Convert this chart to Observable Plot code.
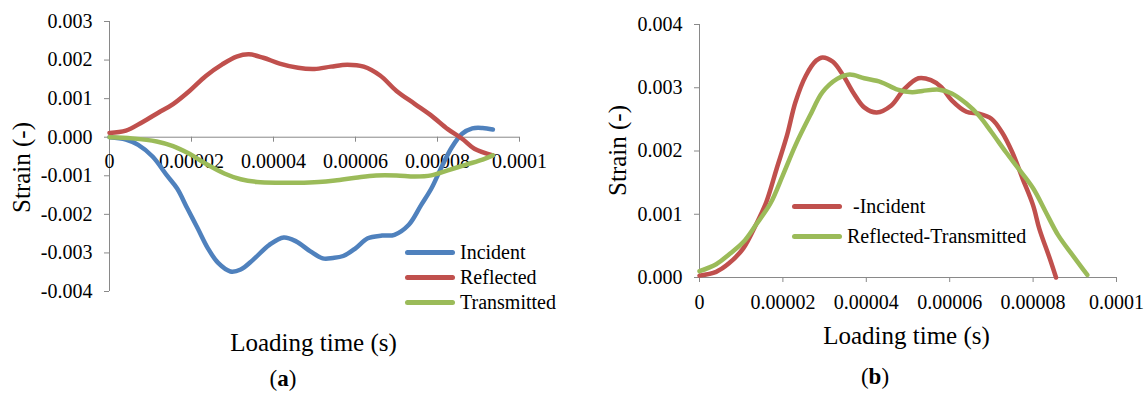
<!DOCTYPE html>
<html><head><meta charset="utf-8">
<script src="https://cdn.jsdelivr.net/npm/d3@7"></script>
<script src="https://cdn.jsdelivr.net/npm/@observablehq/plot@0.6"></script>
<style>
html,body{margin:0;padding:0;background:#fff;}
#wrap{position:relative;width:1147px;height:396px;overflow:hidden;font-family:"Liberation Serif","Times New Roman",serif;color:#000;background:#fff;}
#wrap svg{position:absolute;top:0;}
.leg{position:absolute;font-size:20px;}
.row{display:flex;align-items:center;line-height:1;}
.sw{height:5px;border-radius:2.5px;width:50px;margin-right:5px;flex:none;}
.cap{position:absolute;font-size:23px;line-height:1;transform:translateX(-50%);white-space:nowrap;}
</style></head><body><div id="wrap"></div>
<script>
// ---------- data (time in microseconds, strain in 1e-3) ----------
// Panel (a)
const incidentT = [0,4,7,10.5,14,16.5,19,21.5,24,26.5,29.5,32,35,39,42.5,45.5,49,52,54.5,57,60,63,66.5,69.5,73,76,78.5,81,83.5,86,88.5,91,93.5];
const incidentS = [0,-0.06,-0.2,-0.5,-0.99,-1.33,-1.85,-2.36,-2.88,-3.26,-3.48,-3.43,-3.18,-2.79,-2.6,-2.7,-2.96,-3.14,-3.13,-3.08,-2.88,-2.62,-2.55,-2.53,-2.27,-1.76,-1.33,-0.77,-0.26,0.09,0.23,0.24,0.2];
const reflectedT = [0,4,8,12,15.5,19.5,23.5,27.5,31,34,37.5,41.5,46,50,54,58,62,66,70,74.5,78.5,82.5,86,89,93.5];
const reflectedS = [0.11,0.17,0.39,0.64,0.86,1.2,1.59,1.89,2.09,2.15,2.06,1.91,1.8,1.77,1.83,1.88,1.83,1.6,1.2,0.86,0.56,0.21,-0.04,-0.3,-0.47];
const transmittedT = [0,5.5,11.5,15.5,19.5,23.5,28,32,36,41.5,46,51,55,60,65,70,74.5,78.5,82.5,87,91,93.5];
const transmittedS = [0,-0.03,-0.11,-0.23,-0.43,-0.69,-0.94,-1.09,-1.16,-1.18,-1.18,-1.16,-1.12,-1.05,-0.99,-0.99,-1.02,-0.99,-0.86,-0.71,-0.58,-0.47];
// Panel (b)
const negIncidentT = [0,4,7,10.5,13.5,16,18.5,21,23,25.5,28,29.5,32,34.5,37,39.5,42.5,46,49,52.5,55.5,58,60.5,64,67,70,72.5,75,77.5,80,81.5,84,85.5];
const negIncidentS = [0.03,0.09,0.22,0.46,0.83,1.19,1.72,2.25,2.77,3.19,3.43,3.48,3.41,3.19,2.91,2.69,2.61,2.72,2.97,3.15,3.12,3.01,2.8,2.62,2.59,2.51,2.3,1.98,1.56,1.14,0.77,0.3,0];
const reflMinusTransT = [0,4,7,10.5,13.5,17,20,23,26.5,29.5,33,36,39.5,43.5,47.5,51,53.5,57.5,60.5,64,67,70,73.5,76.5,80,83,86,89.5,93];
const reflMinusTransS = [0.1,0.21,0.36,0.56,0.83,1.17,1.62,2.09,2.56,2.93,3.14,3.21,3.15,3.09,2.97,2.93,2.95,2.97,2.91,2.75,2.56,2.3,1.98,1.72,1.41,1.04,0.67,0.35,0.04];

// ticks
const xTicks = [0,0.00002,0.00004,0.00006,0.00008,0.0001];
const xTickLabels = ["0","0.00002","0.00004","0.00006","0.00008","0.0001"];
const yTicksA = [0.003,0.002,0.001,0,-0.001,-0.002,-0.003,-0.004];
const yTickLabelsA = ["0.003","0.002","0.001","0.000","-0.001","-0.002","-0.003","-0.004"];
const yTicksB = [0.004,0.003,0.002,0.001,0];
const yTickLabelsB = ["0.004","0.003","0.002","0.001","0.000"];

const seriesA = ["Incident","Reflected","Transmitted"];
const seriesB = ["-Incident","Reflected-Transmitted"];
const colors = {blue:"#4F81BD", red:"#C0504D", green:"#9BBB59"};

// ---------- helpers ----------
const rows = (T,S) => T.map((t,i)=>({t:t*1e-6, s:S[i]*1e-3}));
const axisGray = "#898989";
const font = '"Liberation Serif","Times New Roman",serif';
const lw = 4.5;

function axisMarks(yTicks, yLabels){
  return [
    Plot.ruleY([0],{stroke:axisGray, strokeWidth:1}),
    Plot.ruleX([0],{stroke:axisGray, strokeWidth:1}),
    Plot.ruleX(xTicks,{x:d=>d, y1:0, y2:0, insetBottom:-5, stroke:axisGray}),
    Plot.ruleY(yTicks,{y:d=>d, x1:0, x2:0, insetLeft:-5, stroke:axisGray}),
    Plot.text(yTicks,{x:0, y:d=>d, text:(d,i)=>yLabels[i], textAnchor:"end", dx:-17, fontSize:20, fontFamily:font, fill:"#000"}),
    Plot.text(xTicks,{x:d=>d, y:0, text:(d,i)=>xTickLabels[i], lineAnchor:"bottom", dy:31, fontSize:20, fontFamily:font, fill:"#000"})
  ];
}
function titleMarks(ml, mt, yx, yy, xx, xy){
  return [
    Plot.text(["Strain (-)"],{frameAnchor:"top-left", dx:yx-ml, dy:yy-mt, rotate:-90, textAnchor:"middle", lineAnchor:"middle", fontSize:25, fontFamily:font, fill:"#000"}),
    Plot.text(["Loading time (s)"],{frameAnchor:"top-left", dx:xx-ml, dy:xy-mt, textAnchor:"middle", lineAnchor:"bottom", fontSize:25, fontFamily:font, fill:"#000"})
  ];
}

// ---------- panel (a) ----------
const mLA = 109, mTA = 21;
const plotA = Plot.plot({
  width:560, height:396,
  marginLeft:mLA, marginRight:41, marginTop:mTA, marginBottom:105,
  x:{domain:[0,0.0001], axis:null},
  y:{domain:[-0.004,0.003], axis:null},
  style:{fontFamily:font, fontSize:"20px", color:"#000", background:"transparent", overflow:"visible"},
  marks:[
    ...axisMarks(yTicksA, yTickLabelsA),
    Plot.line(rows(incidentT,incidentS),{x:"t",y:"s",stroke:colors.blue,strokeWidth:lw,curve:"catmull-rom"}),
    Plot.line(rows(reflectedT,reflectedS),{x:"t",y:"s",stroke:colors.red,strokeWidth:lw,curve:"catmull-rom"}),
    Plot.line(rows(transmittedT,transmittedS),{x:"t",y:"s",stroke:colors.green,strokeWidth:lw,curve:"catmull-rom"}),
    ...titleMarks(mLA, mTA, 21, 167, 313, 350)
  ]
});
plotA.style.left = "0px";

// ---------- panel (b) ----------
const offB = 560, mLB = 139, mTB = 24;
const plotB = Plot.plot({
  width:587, height:396,
  marginLeft:mLB, marginRight:31, marginTop:mTB, marginBottom:119,
  x:{domain:[0,0.0001], axis:null},
  y:{domain:[0,0.004], axis:null},
  style:{fontFamily:font, fontSize:"20px", color:"#000", background:"transparent", overflow:"visible"},
  marks:[
    ...axisMarks(yTicksB, yTickLabelsB),
    Plot.line(rows(negIncidentT,negIncidentS),{x:"t",y:"s",stroke:colors.red,strokeWidth:lw,curve:"catmull-rom"}),
    Plot.line(rows(reflMinusTransT,reflMinusTransS),{x:"t",y:"s",stroke:colors.green,strokeWidth:lw,curve:"catmull-rom"}),
    ...titleMarks(mLB, mTB, 617-offB, 150, 906-offB, 343)
  ]
});
plotB.style.left = offB + "px";

const wrap = document.getElementById("wrap");
wrap.appendChild(plotA);
wrap.appendChild(plotB);

// ---------- legends ----------
function legend(names, cols, left, top, rowH, extraPad){
  const div = document.createElement("div");
  div.className = "leg";
  div.style.left = left + "px";
  div.style.top = top + "px";
  names.forEach((n,i)=>{
    const r = document.createElement("div");
    r.className = "row";
    r.style.height = rowH + "px";
    const sw = document.createElement("div");
    sw.className = "sw";
    sw.style.background = cols[i];
    const tx = document.createElement("span");
    tx.textContent = n;
    if (extraPad && extraPad[i]) tx.style.paddingLeft = extraPad[i] + "px";
    r.appendChild(sw); r.appendChild(tx);
    div.appendChild(r);
  });
  wrap.appendChild(div);
}
legend(seriesA, [colors.blue, colors.red, colors.green], 405, 239.5, 25);
legend(seriesB, [colors.red, colors.green], 792, 191, 30, [6, 0]);

// ---------- panel captions ----------
function caption(letter, cx, top){
  const d = document.createElement("div");
  d.className = "cap";
  d.style.left = cx + "px";
  d.style.top = top + "px";
  d.innerHTML = "(<b>" + letter + "</b>)";
  wrap.appendChild(d);
}
caption("a", 283, 367);
caption("b", 875, 365);
</script></body></html>
